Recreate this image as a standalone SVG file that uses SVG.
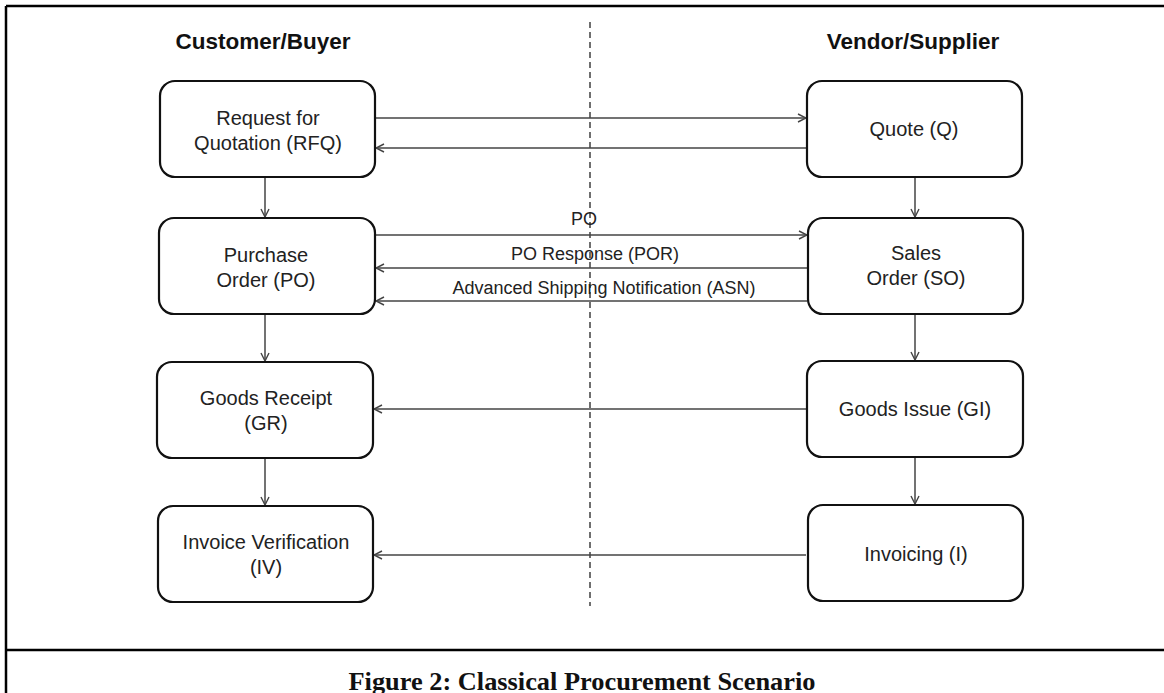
<svg xmlns="http://www.w3.org/2000/svg" width="1164" height="693" viewBox="0 0 1164 693">
<defs>
<style>
.box{fill:#fff;stroke:#111;stroke-width:2.2}
.t{font-family:"Liberation Sans",Arial,sans-serif;font-size:20px;fill:#222;text-anchor:middle}
.lbl{font-family:"Liberation Sans",Arial,sans-serif;font-size:18px;fill:#222;text-anchor:middle}
.hdr{font-family:"Liberation Sans",Arial,sans-serif;font-size:22.5px;font-weight:bold;fill:#111;text-anchor:middle}
.cap{font-family:"Liberation Serif","Times New Roman",serif;font-size:25px;font-weight:bold;fill:#111;text-anchor:middle}
.c{stroke:#444;stroke-width:1.5;fill:none;marker-end:url(#ah)}
.frame{stroke:#000;stroke-width:2.5;fill:none}
</style>
<marker id="ah" viewBox="0 0 10 10" refX="9" refY="5" markerWidth="10" markerHeight="10" markerUnits="userSpaceOnUse" orient="auto">
<path d="M1,1 L9,5 L1,9" fill="none" stroke="#444" stroke-width="1.4"/>
</marker>
</defs>
<rect width="1164" height="693" fill="#fff"/>
<g id="frame">
<line class="frame" x1="6" y1="6" x2="1164" y2="6"/>
<line class="frame" x1="6" y1="6" x2="6" y2="693" stroke-width="2"/>
<line class="frame" x1="6" y1="650" x2="1164" y2="650"/>
</g>
<line x1="590" y1="22" x2="590" y2="606" stroke="#222" stroke-width="1.3" stroke-dasharray="6,4"/>
<text class="hdr" x="263" y="49">Customer/Buyer</text>
<text class="hdr" x="913" y="49">Vendor/Supplier</text>
<g id="connectors">
<line class="c" x1="376" y1="118" x2="806" y2="118"/>
<line class="c" x1="806" y1="148" x2="376" y2="148"/>
<line class="c" x1="376" y1="235" x2="807" y2="235"/>
<line class="c" x1="807" y1="268" x2="376" y2="268"/>
<line class="c" x1="807" y1="301" x2="376" y2="301"/>
<line class="c" x1="806" y1="409" x2="374" y2="409"/>
<line class="c" x1="806" y1="555" x2="374" y2="555"/>
<line class="c" x1="265" y1="178" x2="265" y2="217"/>
<line class="c" x1="265" y1="315" x2="265" y2="361"/>
<line class="c" x1="265" y1="459" x2="265" y2="505"/>
<line class="c" x1="915" y1="178" x2="915" y2="217"/>
<line class="c" x1="915" y1="315" x2="915" y2="360"/>
<line class="c" x1="915" y1="458" x2="915" y2="504"/>
<text class="lbl" x="584" y="225">PO</text>
<text class="lbl" x="595" y="260">PO Response (POR)</text>
<text class="lbl" x="604" y="294">Advanced Shipping Notification (ASN)</text>
</g>
<g id="rfq"><rect class="box" x="160" y="81" width="215" height="96" rx="15"/>
<text class="t" x="268" y="125">Request for</text><text class="t" x="268" y="150">Quotation (RFQ)</text></g>
<g id="po"><rect class="box" x="159" y="218" width="216" height="96" rx="15"/>
<text class="t" x="266" y="262">Purchase</text><text class="t" x="266" y="287">Order (PO)</text></g>
<g id="gr"><rect class="box" x="157" y="362" width="216" height="96" rx="15"/>
<text class="t" x="266" y="405">Goods Receipt</text><text class="t" x="266" y="430">(GR)</text></g>
<g id="iv"><rect class="box" x="158" y="506" width="215" height="96" rx="15"/>
<text class="t" x="266" y="549">Invoice Verification</text><text class="t" x="266" y="574">(IV)</text></g>
<g id="q"><rect class="box" x="807" y="81" width="215" height="96" rx="15"/>
<text class="t" x="914" y="136">Quote (Q)</text></g>
<g id="so"><rect class="box" x="808" y="218" width="215" height="96" rx="15"/>
<text class="t" x="916" y="260">Sales</text><text class="t" x="916" y="285">Order (SO)</text></g>
<g id="gi"><rect class="box" x="807" y="361" width="216" height="96" rx="15"/>
<text class="t" x="915" y="416">Goods Issue (GI)</text></g>
<g id="inv"><rect class="box" x="808" y="505" width="215" height="96" rx="15"/>
<text class="t" x="916" y="561">Invoicing (I)</text></g>
<text class="cap" x="582" y="690" textLength="467" lengthAdjust="spacingAndGlyphs">Figure 2: Classical Procurement Scenario</text>
</svg>
